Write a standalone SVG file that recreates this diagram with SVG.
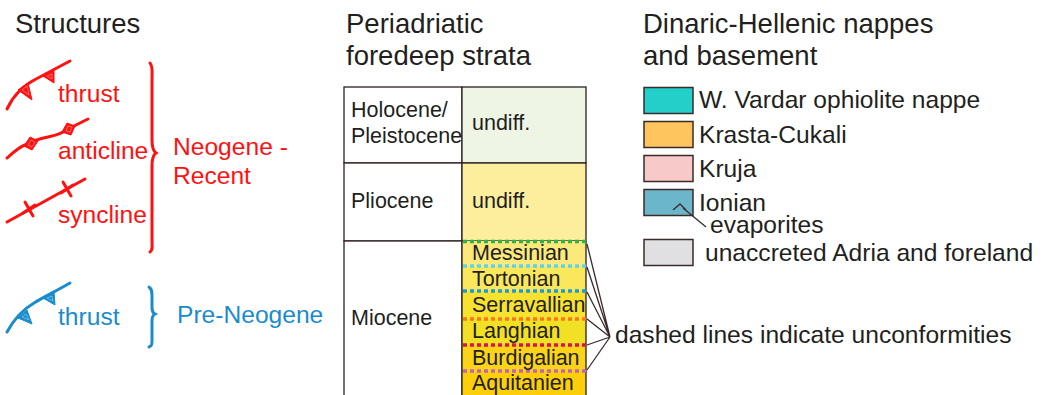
<svg xmlns="http://www.w3.org/2000/svg" width="1052" height="395" viewBox="0 0 1052 395">
<style>
text{font-family:"Liberation Sans",Arial,sans-serif;fill:#231f20}
.title{font-size:27.5px}
.lg{font-size:24.6px}
.tb{font-size:21.5px}
.red{fill:#ff1111}
.blue{fill:#1a8ccc}
.rl{fill:none;stroke:#ff1111;stroke-width:3;stroke-linecap:round}
.bl{fill:none;stroke:#1a8ccc;stroke-width:3;stroke-linecap:round}
.cell{stroke:#2b2020;stroke-width:1.3}
.box{stroke:#3a2a2a;stroke-width:1.5}
.dash{stroke-width:3.5;stroke-dasharray:4 3}
.conn{stroke:#3a2a2a;stroke-width:1.3;fill:none}
</style>
<rect width="1052" height="395" fill="#ffffff"/>

<g id="titles">
<text class="title" x="15" y="33">Structures</text>
<text class="title" x="346" y="33">Periadriatic</text>
<text class="title" x="346" y="65">foredeep strata</text>
<text class="title" x="643" y="33">Dinaric-Hellenic nappes</text>
<text class="title" x="643" y="65">and basement</text>
</g>

<g id="red-thrust">
<path class="rl" d="M7,109 C13,96 22,86 36,79 L70,61"/>
<polygon points="18,90 28,83 32,100" fill="#ff1111" stroke="#ff1111" stroke-width="1"/>
<polygon points="22,90 27,86 29,95" fill="none" stroke="#ff9090" stroke-width="0.7"/>
<polygon points="43,76 54,71 54,83" fill="#ff1111" stroke="#ff1111" stroke-width="1"/>
<polygon points="47,76 52,74 52,79" fill="none" stroke="#ff9090" stroke-width="0.7"/>
<text class="lg red" x="58" y="102">thrust</text>
</g>

<g id="red-anticline">
<path class="rl" d="M7,158 C14,152 19,147 25,145 C32,141 38,139 48,137 C58,135 62,133 70,128 L88,119"/>
<polygon points="24,146 30,137 38,141 32,150" fill="#ff1111" stroke="#ff1111" stroke-width="1"/>
<polygon points="28,145 31,140 35,142 32,147" fill="none" stroke="#ff9090" stroke-width="0.7"/>
<polygon points="62,132 67,123 75,126 71,135" fill="#ff1111" stroke="#ff1111" stroke-width="1"/>
<polygon points="66,131 68,126 72,127 70,132" fill="none" stroke="#ff9090" stroke-width="0.7"/>
<text class="lg red" x="58" y="159">anticline</text>
</g>

<g id="red-syncline">
<path class="rl" d="M7,222 L85,179"/>
<path class="rl" d="M25,202 L33,216 M23,213 L35,205 M63,182 L71,196 M61,193 L73,185" stroke-width="2.4"/>
<text class="lg red" x="58" y="223">syncline</text>
</g>

<g id="red-brace">
<path class="rl" d="M150,63 C153,66 152,72 152,80 L152,140 C152,148 153,151 156,153 C153,155 152,159 152,166 L152,240 C152,247 153,250 150,252"/>
<text class="lg red" x="173" y="155">Neogene -</text>
<text class="lg red" x="173" y="184">Recent</text>
</g>

<g id="blue-thrust">
<path class="bl" d="M7,332 C13,321 22,310 34,303 C44,297 56,291 70,283"/>
<polygon points="18,318 27,310 32,324" fill="#1a8ccc" stroke="#1a8ccc" stroke-width="1"/>
<polygon points="22,317 26,314 29,320" fill="none" stroke="#8cc8e8" stroke-width="0.7"/>
<polygon points="43,298 54,292 55,305" fill="#1a8ccc" stroke="#1a8ccc" stroke-width="1"/>
<polygon points="47,298 52,296 53,301" fill="none" stroke="#8cc8e8" stroke-width="0.7"/>
<text class="lg blue" x="58" y="325">thrust</text>
</g>

<g id="blue-brace">
<path class="bl" stroke-width="2" d="M149,287 C152,289 152,292 152,297 L152,308 C152,311 153,313 155,314 C153,315 152,317 152,321 L152,340 C152,344 152,346 149,347"/>
<text class="lg blue" x="177" y="323">Pre-Neogene</text>
</g>

<g id="table">
<rect class="cell" x="344" y="87" width="118" height="76" fill="#ffffff"/>
<rect class="cell" x="462" y="87" width="124" height="76" fill="#eff5e4"/>
<rect class="cell" x="344" y="163" width="118" height="78" fill="#ffffff"/>
<rect class="cell" x="462" y="163" width="124" height="78" fill="#fdee9e"/>
<rect class="cell" x="344" y="241" width="118" height="160" fill="#ffffff"/>
<rect x="462" y="241" width="124" height="25" fill="#fbe97c"/>
<rect x="462" y="266" width="124" height="25" fill="#fae75c"/>
<rect x="462" y="291" width="124" height="28" fill="#f8e230"/>
<rect x="462" y="319" width="124" height="26" fill="#f2e024"/>
<rect x="462" y="345" width="124" height="26" fill="#fbd41a"/>
<rect x="462" y="371" width="124" height="30" fill="#fccf0a"/>
<path class="cell" fill="none" d="M462,241 V395 M586,241 V395"/>
<path class="dash" stroke="#2db34a" d="M463,241.5 H586"/>
<path class="dash" stroke="#5dd3ef" d="M463,266 H586"/>
<path class="dash" stroke="#1b9ad6" d="M463,291 H586"/>
<path class="dash" stroke="#f47920" d="M463,319 H586"/>
<path class="dash" stroke="#d4145a" d="M463,345 H586"/>
<path class="dash" stroke="#c164b4" d="M463,371 H586"/>
<text class="tb" x="351" y="117">Holocene/</text>
<text class="tb" x="351" y="143">Pleistocene</text>
<text class="tb" x="472" y="130">undiff.</text>
<text class="tb" x="351" y="208">Pliocene</text>
<text class="tb" x="472" y="208">undiff.</text>
<text class="tb" x="351" y="325">Miocene</text>
<text class="tb" x="472" y="260">Messinian</text>
<text class="tb" x="472" y="286">Tortonian</text>
<text class="tb" x="472" y="312">Serravallian</text>
<text class="tb" x="472" y="338">Langhian</text>
<text class="tb" x="472" y="365">Burdigalian</text>
<text class="tb" x="472" y="390">Aquitanien</text>
</g>

<g id="connectors">
<path class="conn" d="M587,244 L610,337 M587,267 L610,337 M587,292 L610,337 M587,319 L610,337 M587,345 L610,337 M587,370 L610,337"/>
</g>
<g id="note">
<text class="lg" x="615" y="343">dashed lines indicate unconformities</text>
</g>

<g id="legend">
<rect class="box" x="644" y="87.5" width="49" height="26" fill="#23cfc9"/>
<text class="lg" x="699" y="108">W. Vardar ophiolite nappe</text>
<rect class="box" x="644" y="121.5" width="49" height="26" fill="#fec55e"/>
<text class="lg" x="699" y="143">Krasta-Cukali</text>
<rect class="box" x="644" y="155.5" width="49" height="26" fill="#f7c9c9"/>
<text class="lg" x="699" y="177">Kruja</text>
<rect class="box" x="644" y="189.5" width="49" height="26" fill="#6cb6ca"/>
<text class="lg" x="699" y="211">Ionian</text>
<path class="conn" d="M673,210 L680,204 L686,210 M683,208 L706,227"/>
<text class="lg" x="710" y="233">evaporites</text>
<rect class="box" x="644" y="239.5" width="49" height="26" fill="#e0e0e2"/>
<text class="lg" x="705" y="261">unaccreted Adria and foreland</text>
</g>
</svg>
